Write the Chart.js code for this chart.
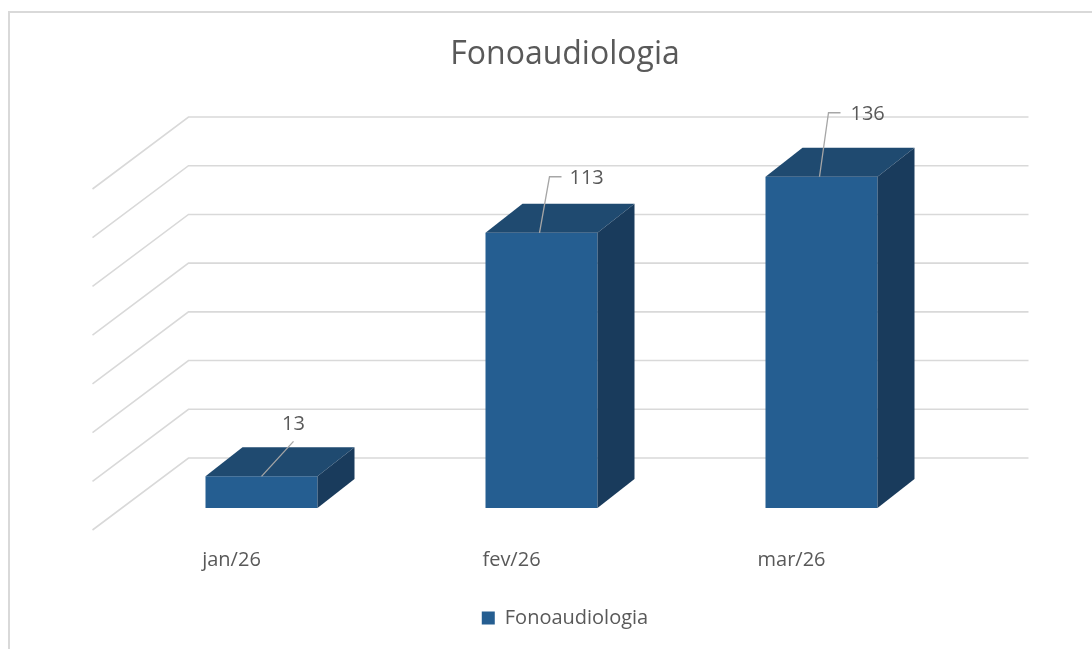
<!DOCTYPE html>
<html>
<head>
<meta charset="utf-8">
<script src="https://cdn.jsdelivr.net/npm/chart.js@4.4.0/dist/chart.umd.min.js"></script>
<style>
  html, body { margin: 0; padding: 0; background: #fff; }
  #wrap { position: relative; width: 1092px; height: 649px; }
</style>
</head>
<body>
<div id="wrap"><canvas id="c" width="1092" height="649"></canvas></div>
<script>
const categories = ['jan/26', 'fev/26', 'mar/26'];
const seriesName = 'Fonoaudiologia';
const values = [13, 113, 136];
const chartTitle = 'Fonoaudiologia';
const yMin = 0, yMax = 140, yStep = 20;

const TEXT = '#595959';
const FRONT = '#255E91';
const TOP = '#1F4A70';
const SIDE = '#193B5C';
const GRID = '#d9d9d9';

// 3D layout (pixels), relative to chart area front plane
const WALL = {dx: 67, dy: -50};
const FLOOR = {dx: -29, dy: 22};
const DEPTH = {dx: 37, dy: -29};
// leader-line geometry per point: [startDx, elbowDx, elbowDy, tailDx, textDx, textDy, align]
const leader = [
  [0, 32, -35, 32, 32, -52, 'center'],
  [-2, 8, -56, 20, 28, -54, 'left'],
  [-2, 7, -64, 19, 29, -62, 'left']
];

const frame3d = {
  id: 'frame3d',
  beforeDraw(chart) {
    const ctx = chart.ctx;
    ctx.save();
    ctx.strokeStyle = GRID;
    ctx.lineWidth = 2;
    ctx.beginPath();
    ctx.moveTo(9, 650); ctx.lineTo(9, 12); ctx.lineTo(1092, 12);
    ctx.stroke();
    ctx.restore();
  },
  beforeDatasetsDraw(chart) {
    const ctx = chart.ctx, a = chart.chartArea, ys = chart.scales.y;
    ctx.save();
    ctx.strokeStyle = GRID;
    ctx.lineWidth = 1.6;
    ys.ticks.forEach(t => {
      const yF = ys.getPixelForValue(t.value);
      const yB = yF + WALL.dy;
      ctx.beginPath();
      ctx.moveTo(a.left + FLOOR.dx, yF + FLOOR.dy);
      ctx.lineTo(a.left + WALL.dx, yB);
      ctx.lineTo(a.right + WALL.dx, yB);
      ctx.stroke();
    });
    ctx.restore();
  },
  afterDatasetsDraw(chart) {
    const ctx = chart.ctx;
    const meta = chart.getDatasetMeta(0);
    ctx.save();
    meta.data.forEach((bar, i) => {
      const p = bar.getProps(['x', 'y', 'base', 'width'], true);
      const x0 = p.x - p.width / 2, x1 = p.x + p.width / 2;
      const top = p.y, bot = p.base;
      // top face
      ctx.fillStyle = TOP;
      ctx.beginPath();
      ctx.moveTo(x0, top);
      ctx.lineTo(x0 + DEPTH.dx, top + DEPTH.dy);
      ctx.lineTo(x1 + DEPTH.dx, top + DEPTH.dy);
      ctx.lineTo(x1, top);
      ctx.closePath();
      ctx.fill();
      // side face
      ctx.fillStyle = SIDE;
      ctx.beginPath();
      ctx.moveTo(x1, top);
      ctx.lineTo(x1 + DEPTH.dx, top + DEPTH.dy);
      ctx.lineTo(x1 + DEPTH.dx, bot + DEPTH.dy);
      ctx.lineTo(x1, bot);
      ctx.closePath();
      ctx.fill();
      // leader line + label
      const L = leader[i];
      ctx.strokeStyle = '#a6a6a6';
      ctx.lineWidth = 1.3;
      ctx.beginPath();
      ctx.moveTo(p.x + L[0], top);
      ctx.lineTo(p.x + L[1], top + L[2]);
      if (L[3] !== L[1]) ctx.lineTo(p.x + L[3], top + L[2]);
      ctx.stroke();
      ctx.fillStyle = TEXT;
      ctx.font = '20px "Open Sans"';
      ctx.textAlign = L[6];
      ctx.textBaseline = 'middle';
      ctx.fillText(String(values[i]), p.x + L[4], top + L[5]);
    });
    ctx.restore();
  }
};

new Chart(document.getElementById('c'), {
  type: 'bar',
  data: {
    labels: categories,
    datasets: [{
      label: seriesName,
      data: values,
      backgroundColor: FRONT,
      borderWidth: 0,
      barPercentage: 0.4,
      categoryPercentage: 1.0
    }]
  },
  options: {
    responsive: false,
    animation: false,
    devicePixelRatio: 1,
    layout: { padding: { left: 121.5, right: 83.5, top: 0, bottom: 11 } },
    plugins: {
      title: {
        display: true,
        text: chartTitle,
        color: TEXT,
        font: { family: 'Open Sans', size: 32, weight: 'normal' },
        padding: { top: 36, bottom: 92.6 }
      },
      legend: {
        display: true,
        position: 'bottom',
        labels: {
          color: TEXT,
          font: { family: 'Open Sans', size: 20 },
          boxWidth: 13,
          boxHeight: 13,
          padding: 10
        }
      },
      tooltip: { enabled: false }
    },
    scales: {
      x: {
        grid: { display: false, drawTicks: false },
        border: { display: false },
        ticks: {
          color: TEXT,
          font: { family: 'Open Sans', size: 20 },
          padding: 40,
          labelOffset: -30,
          maxRotation: 0
        },
        afterFit(s) { s.height = 90; }
      },
      y: {
        position: 'right',
        min: yMin, max: yMax,
        grid: { display: false, drawTicks: false },
        border: { display: false },
        ticks: { display: false, stepSize: yStep },
        afterFit(s) { s.width = 47; }
      }
    }
  },
  plugins: [frame3d]
});
</script>
</body>
</html>
